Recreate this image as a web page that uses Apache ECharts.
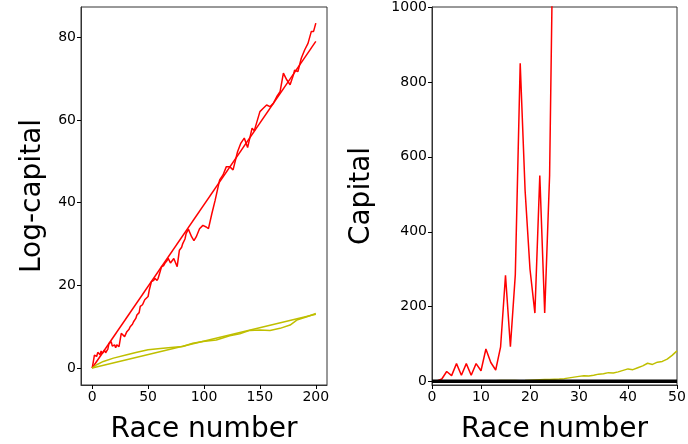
<!DOCTYPE html>
<html><head><meta charset="utf-8">
<script src="https://cdn.jsdelivr.net/npm/echarts@6/dist/echarts.min.js"></script>
<style>html,body{margin:0;padding:0;background:#fff}#c{width:688px;height:444px}</style>
</head><body><div id="c"></div>
<script>
// ---- Left panel: log-capital ----
const redRaces = [0,1,2,3,4,5,6,7,8,9,10,11,12,13,14,15,16,17,18,19,20,21,22,23,24,26,27,29,31,33,34,36,37,39,40,42,43,45,47,48,50,51,53,55,56,58,59,60,62,64,65,67,68,70,71,73,74,76,78,80,81,83,84,86,89,91,93,96,99,102,104,107,110,111,114,117,120,123,126,130,133,136,139,143,145,150,153,156,159,162,165,168,171,174,177,180,181,184,187,190,193,196,198,200];
const redLog = [0,1.5,3.1,3.2,2.8,3.8,3.6,3.2,4.1,3.5,3.4,4.3,3.7,4,4.6,5.9,6,6.4,5.3,5.2,5.6,4.9,5.6,5.8,5.2,8.4,8,7.6,8.8,9.4,10,10.6,11.2,12,12.8,13.4,14.9,15.3,16.5,16.2,17.3,18.8,20.9,21.2,21.7,21.2,21.7,22.6,24.5,24.8,25.3,26,26.5,25.4,25.7,26.5,26.1,24.5,28.5,29.2,30.1,31.2,32.5,33.6,31.7,30.8,31.7,33.7,34.5,34.1,33.7,37.3,40.6,40.7,45.5,46.7,48.7,48.7,47.9,52.3,54.4,55.6,53.3,58,57.4,62,62.8,63.6,63.2,64,65.6,66.8,71.3,69.7,68.5,70.9,72,71.7,74.9,76.9,78.5,81.4,81.4,83.4];
const redTrendRaces = [0,200];
const redTrend = [0,79];
const yelRaces = [0,4,10,19,31,40,50,61,73,81,90,99,111,123,132,141,150,159,168,177,183,192,200];
const yelLog = [0,0.8,1.6,2.4,3.2,3.8,4.4,4.7,5,5.2,6,6.4,6.8,7.8,8.3,9.1,9.2,9.1,9.6,10.4,11.6,12.4,13.2];
const yelTrendRaces = [0,200];
const yelTrend = [0,13];
const leftXTicks = [0,50,100,150,200];
const leftYTicks = [0,20,40,60,80];

// ---- Right panel: capital ----
const races50 = [0,1,2,3,4,5,6,7,8,9,10,11,12,13,14,15,16,17,18,19,20,21,22,23,24,25,26,27,28,29,30,31,32,33,34,35,36,37,38,39,40,41,42,43,44,45,46,47,48,49,50];
const redCap = [1,2,7,27,16,48,17,48,17,48,29,87,51,31,93,284,93,285,850,510,300,183,550,183,550,1500,4400,3000,2500,2000,2200,6600,9000,8000,12000,15000,14000,20000,25000,22000,30000,35000,40000,38000,50000,60000,55000,70000,90000,85000,120000];
const yelCap = [1,1,1,1,1.5,1.5,2,2,2,2,2.5,2.5,2,2.5,3,3,3,3,2.5,3,4,4.5,5,5.5,6,6.5,7,8,10,12,14,16,15,17,20,21,24,23,26,30,34,32,37,42,49,46,52,54,60,70,82];
const blackCap = [1,1,1,1,1,1,1,1,1,1,1,1,1,1,1,1,1,1,1,1,1,1,1,1,1,1,1,1,1,1,1,1,1,1,1,1,1,1,1,1,1,1,1,1,1,1,1,1,1,1,1];
const rightXTicks = [0,10,20,30,40,50];
const rightYTicks = [0,200,400,600,800,1000];

const zip = (xs, ys) => xs.map((x, i) => [x, ys[i]]);
const FONT = 'DejaVu Sans';
const SPINE = '#333';

function axisBase(ticks, min, max, name, gap) {
  return {
    type: 'value', min: min, max: max,
    name: name, nameLocation: 'middle', nameGap: gap,
    nameTextStyle: {fontFamily: FONT, fontSize: 28, color: '#000'},
    axisLine: {show: true, onZero: false, lineStyle: {color: SPINE, width: 1}},
    axisTick: {show: true, inside: false, length: 4, customValues: ticks, lineStyle: {color: '#000', width: 1}},
    axisLabel: {show: true, customValues: ticks, fontFamily: FONT, fontSize: 14, color: '#000', margin: 5,
      formatter: v => String(v)},
    splitLine: {show: false}
  };
}
function line(xAxisIndex, data, color, z) {
  return {type: 'line', xAxisIndex: xAxisIndex, yAxisIndex: xAxisIndex, data: data,
    showSymbol: false, symbol: 'none', clip: true, z: z || 2,
    lineStyle: {color: color, width: 1.5}, itemStyle: {color: color}};
}

const chart = echarts.init(document.getElementById('c'), null, {renderer: 'canvas'});
chart.setOption({
  animation: false,
  backgroundColor: '#fff',
  grid: [
    {left: 81, top: 7, width: 246, height: 378, containLabel: false, outerBoundsMode: 'none', show: true, borderColor: SPINE, borderWidth: 1, backgroundColor: 'transparent'},
    {left: 432, top: 7, width: 245, height: 378, containLabel: false, outerBoundsMode: 'none', show: true, borderColor: SPINE, borderWidth: 1, backgroundColor: 'transparent'}
  ],
  xAxis: [
    Object.assign(axisBase(leftXTicks, -10, 210, 'Race number', 31), {gridIndex: 0}),
    Object.assign(axisBase(rightXTicks, 0, 50, 'Race number', 31), {gridIndex: 1})
  ],
  yAxis: [
    Object.assign(axisBase(leftYTicks, -4.1, 87.3, 'Log-capital', 34), {gridIndex: 0}),
    Object.assign(axisBase(rightYTicks, -9, 1000, 'Capital', 56), {gridIndex: 1})
  ],
  series: [
    line(0, zip(redRaces, redLog), '#ff0000'),
    line(0, zip(redTrendRaces, redTrend), '#ff0000'),
    line(0, zip(yelRaces, yelLog), '#bfbf00'),
    line(0, zip(yelTrendRaces, yelTrend), '#bfbf00'),
    line(1, zip(races50, redCap), '#ff0000'),
    line(1, zip(races50, yelCap), '#bfbf00'),
    Object.assign(line(1, zip(races50, blackCap), '#000000', 5), {lineStyle: {color: '#000', width: 3.5}})
  ]
});
</script>
</body></html>
